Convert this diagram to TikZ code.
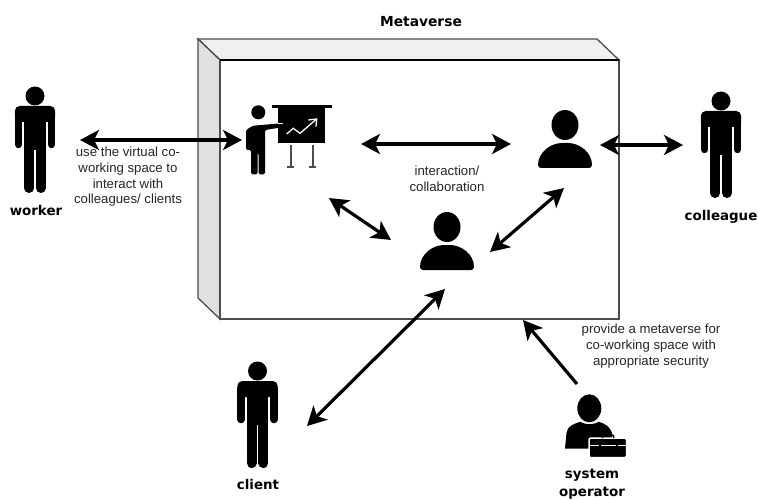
\documentclass[tikz,border=0pt]{standalone}
\usepackage{fontspec}
\setmainfont{Liberation Sans}
\newfontfamily\rolefont{DejaVu Sans}
\usetikzlibrary{arrows.meta}
\definecolor{topface}{gray}{0.94}
\definecolor{sideface}{gray}{0.88}
\definecolor{edge}{gray}{0.3}
\tikzset{
	link/.style={{Stealth[length=19pt,width=20pt,inset=5pt]}-{Stealth[length=19pt,width=20pt,inset=5pt]}, line width=3.2pt},
	oneway/.style={-{Stealth[length=19pt,width=20pt,inset=5pt]}, line width=3.2pt},
	caption/.style={align=center, inner sep=0pt, text=black!85, font=\fontsize{13.2}{15.7}\selectfont},
	role/.style={align=center, inner sep=0pt, font=\rolefont\bfseries\fontsize{13.4}{18}\selectfont},
	standing/.pic={
		\fill (0,0) circle (9.5);
		\fill[rounded corners=5pt] (-20.2,10) -- (20.2,10) -- (20.2,26) -- (-20.2,26) -- cycle;
		\fill (-10.7,14) rectangle (10.7,54);
		\draw[line width=7.5pt, line cap=round] (-16.4,18) -- (-16.4,48.5);
		\draw[line width=7.5pt, line cap=round] (16.4,18) -- (16.4,48.5);
		\draw[line width=10pt, line cap=round] (-5.9,50) -- (-5.9,92);
		\draw[line width=10pt, line cap=round] (5.9,50) -- (5.9,92);
	},
	bust/.pic={
		\fill (0,0) ellipse [x radius=13.5, y radius=15];
		\fill[rounded corners=3pt] (-27,43) .. controls (-27,27) and (-14,18) .. (0,18) .. controls (14,18) and (27,27) .. (27,43) -- cycle;
	},
}
\begin{document}
\begin{tikzpicture}[x=1pt, y=-1pt]
\useasboundingbox (0,0) rectangle (758,500);
% the box
\draw[edge, line width=1.3pt, fill=topface] (198,39)--(597,39)--(619,60)--(220,60)--cycle;
\draw[edge, line width=1.3pt, fill=sideface] (198,39)--(220,60)--(220,319)--(198,298)--cycle;
\draw[edge, line width=1.3pt, fill=white] (220,60) rectangle (619,319);
\draw[black, line width=1.3pt] (220,60)--(619,60);
\node[role, font=\rolefont\bfseries\fontsize{13.8}{16}\selectfont] (metaverse) at (421,22) {Metaverse};
% people
\foreach \name/\x/\y in {worker/35/96, colleague/721/101, client/257.5/371}
	\pic (\name) at (\x,\y) {standing};
\pic (peerA) at (565,125) {bust};
\pic (peerB) at (447,227) {bust};
% presenter and board
\fill (258.3,112.3) circle (7);
\fill[rounded corners=1.5pt] (246,150)--(246,130)--(253,125.7)--(281.7,123.3)--(283,125)--(281.7,127.3)--(265,130)--(265,174.3)--(258.5,174.3)--(258.5,153)--(257.5,153)--(257.5,174.3)--(251,174.3)--(251,150)--cycle;
\fill (271.5,105) rectangle (331.5,107.8);
\fill (278,108.5) rectangle (325,143.5);
\draw[white, line width=1pt] (278,123.3)--(283,123.3);
\fill[black, rounded corners=1pt] (278,124.2)--(281.7,124)--(283,125)--(281.7,126.5)--(278,127)--cycle;
\draw[white, line width=1.3pt] (286.7,134)--(293.3,128.3)--(300,133.3)--(315.5,120);
\draw[white, line width=1.3pt] (308.3,120)--(316.7,119)--(316,126.7);
\foreach \x in {290.7, 312.7}{
	\draw[edge, line width=2pt] (\x,145)--(\x,167);
	\draw[edge, line width=2pt] (\x-3.5,167.5)--(\x+3.5,167.5);
}
% operator with case
\fill (589.3,408.3) ellipse [x radius=12, y radius=14];
\fill (565,448.5)--(566.5,433) .. controls (567,426) and (574,424) .. (580,421.8) .. controls (586,425) and (593,425) .. (599,421.8) .. controls (606,424) and (610,427) .. (612,433)--(612,448.5)--cycle;
\draw[white, line width=1.5pt, fill=black, rounded corners=1.5pt] (589,438)--(626.5,438)--(626.5,457.7)--(589,457.7)--cycle;
\draw[black, line width=1.5pt, rounded corners=1pt] (602.5,438)--(602.5,435)--(613.5,435)--(613.5,438);
\draw[white, line width=.8pt] (589.5,445)--(626,445);
\foreach \x in {599.5, 616.5}
	\fill[black] (\x-1,443.5) rectangle (\x+1,446.5);
% labels
\node[role] (workerName) at (36,211) {worker};
\node[role] (colleagueName) at (721,217) {colleague};
\node[role] (clientName) at (258,485) {client};
\node[role] (operatorName) at (592,484) {system\\operator};
\node[caption] (useNote) at (128,177) {use the virtual co-\\working space to\\interact with\\colleagues/ clients};
\node[caption] (teamNote) at (447,179) {interaction/\\collaboration};
\node[caption] (securityNote) at (651,346) {provide a metaverse for\\co-working space with\\appropriate security};
% arrow ends
\coordinate (workerEnd) at (80,140);
\coordinate (boardWest) at (242,140);
\coordinate (boardEast) at (361,144);
\coordinate (peerAWest) at (511,144);
\coordinate (peerAEast) at (600,145);
\coordinate (colleagueEnd) at (683,145);
\coordinate (peerASouth) at (564,188);
\coordinate (peerBEast) at (490,252);
\coordinate (boardSouth) at (329,198);
\coordinate (peerBWest) at (391,240);
\coordinate (peerBSouth) at (445,289);
\coordinate (clientEnd) at (307,426);
\coordinate (operatorEnd) at (577,384);
\coordinate (boxSouth) at (523,320);
\foreach \a/\b in {workerEnd/boardWest, boardEast/peerAWest, peerAEast/colleagueEnd, peerASouth/peerBEast, boardSouth/peerBWest, peerBSouth/clientEnd}
	\draw[link] (\a) -- (\b);
\draw[oneway] (operatorEnd) -- (boxSouth);
\end{tikzpicture}
\end{document}
